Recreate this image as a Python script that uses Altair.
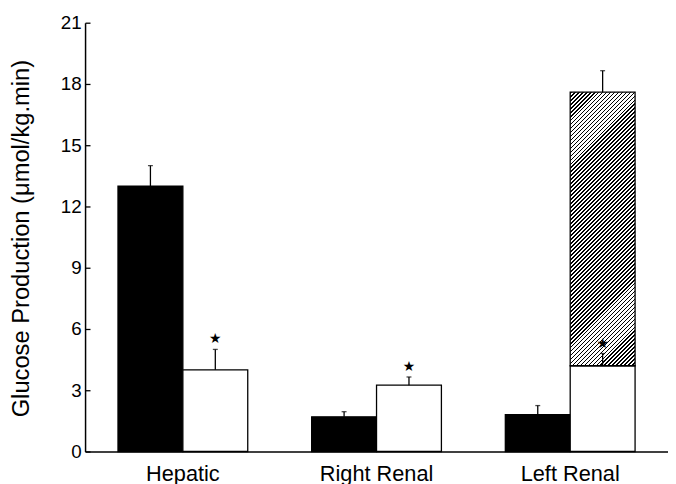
import altair as alt
import pandas as pd

# ---- data ----
categories = ["Hepatic", "Right Renal", "Left Renal"]
regions = ["Hepatic", "Hepatic", "Right Renal", "Right Renal", "Left Renal", "Left Renal", "Left Renal"]
groups = ["a", "b", "a", "b", "a", "b", "b"]
kinds = ["black", "white", "black", "white", "black", "white", "hatch"]
bases = [0, 0, 0, 0, 0, 0, 4.2]
values = [13.0, 4.0, 1.7, 3.25, 1.8, 4.2, 17.6]
errors = [1.0, 1.0, 0.25, 0.4, 0.45, 0.6, 1.05]
stars = ["", "\u2605", "", "\u2605", "", "\u2605", ""]
y_ticks = [0, 3, 6, 9, 12, 15, 18, 21]

df = pd.DataFrame({
    "region": regions,
    "group": groups,
    "kind": kinds,
    "base": bases,
    "value": values,
    "err": errors,
    "star": stars,
})
df["top"] = df["value"] + df["err"]

W, H = 590, 434
FONT = "Liberation Sans"

# diagonal hatch emulated with a striped linear gradient (bounding-box units)
bw = W / 3.01 * 0.67 / 2.0
bh = (17.6 - 4.2) / 21.0 * H
k = (bw + bh) / (bw * bw + bh * bh)
n_stripes = 85
stops = []
for i in range(n_stripes):
    t0 = i / n_stripes
    t1 = (i + 0.45) / n_stripes
    t2 = (i + 1) / n_stripes
    stops += [
        {"offset": t0, "color": "#000000"},
        {"offset": t1, "color": "#000000"},
        {"offset": t1, "color": "#ffffff"},
        {"offset": t2, "color": "#ffffff"},
    ]
hatch_fill = {"gradient": "linear", "x1": 0, "y1": 0, "x2": k * bw, "y2": k * bh, "stops": stops}

yscale = alt.Scale(domain=[0, 21], nice=False, zero=True)

base = alt.Chart(df).encode(
    x=alt.X(
        "region:N",
        sort=categories,
        scale=alt.Scale(paddingInner=0.33, paddingOuter=0.17),
        axis=alt.Axis(
            title=None, labelAngle=0, ticks=False, grid=False, labelFontSize=22, labelPadding=12,
            labelColor="black", domainColor="black", domainWidth=1.5, labelFont=FONT,
        ),
    ),
    xOffset=alt.XOffset("group:N", scale=alt.Scale(paddingInner=0, paddingOuter=0)),
)

bars = base.transform_filter("datum.kind != 'hatch'").mark_bar(stroke="black", strokeWidth=1.3).encode(
    y=alt.Y(
        "value:Q",
        scale=yscale,
        axis=alt.Axis(
            orient="left", values=y_ticks, ticks=True, tickSize=alt.ExprRef(expr="-5"),
            tickWidth=1.3, tickColor="black", grid=False,
            labelFontSize=19, labelPadding=9, labelColor="black", labelFont=FONT,
            domainColor="black", domainWidth=1.5,
            title="Glucose Production (\u03bcmol/kg.min)", titleFont=FONT, titleFontSize=24,
            titleFontWeight="normal", titleColor="black", titleX=-52, titleY=218,
            titleAngle=270, titleAlign="center", titleBaseline="bottom",
        ),
    ),
    y2="base:Q",
    fill=alt.Fill("kind:N", scale=alt.Scale(domain=["black", "white"], range=["#000000", "#ffffff"]), legend=None),
)

hatch = base.transform_filter("datum.kind == 'hatch'").mark_bar(
    fill=hatch_fill, stroke="black", strokeWidth=1.3
).encode(
    y=alt.Y("value:Q"),
    y2="base:Q",
)

err = base.mark_rule(color="black", strokeWidth=1.3).encode(
    y=alt.Y("value:Q"),
    y2="top:Q",
)

caps = base.mark_tick(orient="horizontal", size=5, thickness=1.3, color="black").encode(
    y=alt.Y("top:Q"),
)

star_marks = base.transform_filter("datum.star != ''").mark_text(
    font="DejaVu Sans", fontSize=14, color="black", baseline="middle", dy=-10
).encode(
    y=alt.Y("top:Q"),
    text="star:N",
)

chart = (
    alt.layer(bars, hatch, err, caps, star_marks)
    .properties(
        width=W, height=H, autosize="none", background="white",
        padding={"left": 78, "top": 12, "right": 0, "bottom": 30},
    )
    .configure_view(stroke="transparent", strokeWidth=0)
)

chart.save("out.html", embed_options={"renderer": "svg", "actions": False})
